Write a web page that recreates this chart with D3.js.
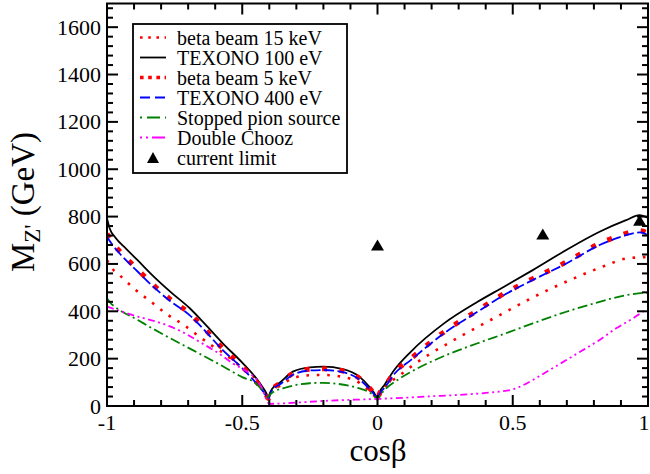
<!DOCTYPE html>
<html><head><meta charset="utf-8">
<script src="https://cdn.jsdelivr.net/npm/d3@7"></script>
<style>
html,body{margin:0;padding:0;background:#fff;}
svg{display:block;}
</style></head>
<body>
<svg id="chart" width="650" height="474" font-family="'Liberation Serif', 'Times New Roman', Times, 'DejaVu Serif', serif"></svg>
<script>
// ---------- data ----------
const betaBeam15keV = [[-1,616],[-0.981,581],[-0.954,553],[-0.898,494],[-0.837,440],[-0.775,385],[-0.713,340],[-0.683,314],[-0.621,262],[-0.559,215],[-0.498,159],[-0.461,128],[-0.435,90],[-0.418,60],[-0.405,35],[-0.397,52],[-0.38,72],[-0.36,86],[-0.313,117],[-0.25,130],[-0.2,131],[-0.128,123],[-0.067,98],[-0.03,64],[-0.012,44],[0,28],[0.01,50],[0.031,85],[0.076,124],[0.136,176],[0.197,222],[0.265,267],[0.333,311],[0.4,352],[0.468,394],[0.568,455],[0.636,493],[0.74,546],[0.845,594],[0.919,623],[0.993,630],[1,631]];
const texono100eV = [[-1,792],[-0.99,750],[-0.97,713],[-0.93,665],[-0.887,616],[-0.83,550],[-0.76,477],[-0.695,414],[-0.64,349],[-0.572,265],[-0.5,183],[-0.448,117],[-0.425,80],[-0.412,56],[-0.403,35],[-0.395,62],[-0.38,84],[-0.362,98],[-0.313,145],[-0.25,163],[-0.2,166],[-0.128,156],[-0.067,124],[-0.03,81],[-0.012,55],[0,32],[0.008,60],[0.025,88],[0.062,152],[0.123,229],[0.246,349],[0.37,440],[0.468,504],[0.574,574],[0.698,659],[0.821,736],[0.919,785],[0.969,806],[1,794]];
const betaBeam5keV = [[-1,728],[-0.984,697],[-0.95,650],[-0.886,576],[-0.83,513],[-0.763,448],[-0.695,391],[-0.652,342],[-0.572,243],[-0.5,166],[-0.448,102],[-0.425,70],[-0.412,48],[-0.403,32],[-0.395,58],[-0.38,81],[-0.36,96],[-0.313,137],[-0.25,155],[-0.2,157],[-0.128,148],[-0.067,117],[-0.03,76],[-0.012,50],[0,30],[0.008,55],[0.025,80],[0.062,140],[0.123,200],[0.246,313],[0.37,404],[0.468,475],[0.574,538],[0.698,608],[0.821,686],[0.9,722],[0.944,737],[0.97,740],[1,730]];
const texono400eV = [[-1,715],[-0.984,687],[-0.95,640],[-0.886,567],[-0.83,505],[-0.763,440],[-0.695,384],[-0.652,335],[-0.572,236],[-0.5,160],[-0.448,96],[-0.425,65],[-0.412,45],[-0.403,30],[-0.395,55],[-0.38,78],[-0.36,92],[-0.313,132],[-0.25,150],[-0.2,152],[-0.128,143],[-0.067,112],[-0.03,72],[-0.012,48],[0,28],[0.008,52],[0.025,75],[0.062,135],[0.123,194],[0.246,307],[0.37,398],[0.468,469],[0.574,532],[0.698,602],[0.821,680],[0.9,715],[0.944,729],[0.97,733],[1,722]];
const stoppedPion = [[-1,455],[-0.985,432],[-0.971,419],[-0.886,363],[-0.8,307],[-0.683,236],[-0.572,168],[-0.5,122],[-0.448,94],[-0.43,72],[-0.418,52],[-0.408,35],[-0.398,48],[-0.38,63],[-0.35,74],[-0.3,89],[-0.25,96],[-0.2,98],[-0.15,94],[-0.1,84],[-0.067,74],[-0.03,58],[-0.012,42],[0,26],[0.01,45],[0.03,72],[0.074,110],[0.148,159],[0.246,211],[0.37,265],[0.474,307],[0.574,349],[0.698,398],[0.821,440],[0.919,468],[0.993,478],[1,478]];
const doubleChooz = [[-1,420],[-0.905,384],[-0.781,342],[-0.72,312],[-0.658,271],[-0.596,229],[-0.535,180],[-0.473,138],[-0.44,102],[-0.424,68],[-0.412,30],[-0.4,9],[-0.37,10],[-0.19,22],[0,30],[0.1,35],[0.2,41],[0.3,47],[0.4,55],[0.45,61],[0.5,70],[0.525,81],[0.574,110],[0.636,152],[0.698,194],[0.759,236],[0.821,279],[0.882,328],[0.944,370],[0.993,405],[1,408]];
const currentLimit = [[0,680],[0.611,726],[0.969,785]];

const legendLabels = ["beta beam 15 keV","TEXONO 100 eV","beta beam 5 keV","TEXONO 400 eV","Stopped pion source","Double Chooz","current limit"];
const xMajorTicks = [-1,-0.5,0,0.5,1];
const xTickLabels = ["-1","-0.5","0","0.5","1"];
const yMajorTicks = [0,200,400,600,800,1000,1200,1400,1600];
const yTickLabels = ["0","200","400","600","800","1000","1200","1400","1600"];

// ---------- layout ----------
const svg = d3.select("#chart");
const L = 107, R = 648, T = 3.5, B = 406;
const x = d3.scaleLinear().domain([-1,1]).range([L,R]);
const y = d3.scaleLinear().domain([0,1700]).range([B,T]);

const series = [
  {data: betaBeam15keV, color:"#ff0000", w:2.6, dash:"2.6,7.8", ldash:"2.6,5.6"},
  {data: texono100eV, color:"#000000", w:1.8, dash:null, ldash:null},
  {data: betaBeam5keV, color:"#ff0000", w:5, dash:"5,12.5", ldash:"3.6,4.6"},
  {data: texono400eV, color:"#0000ff", w:1.8, dash:"10,3.5", ldash:"10,5"},
  {data: stoppedPion, color:"#008000", w:1.8, dash:"10,3.5,2,3.5", ldash:"2,5,13,5"},
  {data: doubleChooz, color:"#ff00ff", w:1.8, dash:"7,3.5,2,3.5,2,3.5", ldash:"2,4,2,4,13,5"}
];

const defs = svg.append("defs");
defs.append("clipPath").attr("id","clip").append("rect")
  .attr("x",L).attr("y",T).attr("width",R-L).attr("height",B-T);

const line = d3.line().x(d=>x(d[0])).y(d=>y(d[1])).curve(d3.curveMonotoneX);
const plot = svg.append("g").attr("clip-path","url(#clip)");
series.forEach(s=>{
  plot.append("path").attr("d",line(s.data)).attr("fill","none")
    .attr("stroke",s.color).attr("stroke-width",s.w)
    .attr("stroke-dasharray",s.dash).attr("stroke-linecap","butt").attr("stroke-linejoin","round");
});

const tri = (cx,cy,w,h)=>`M${cx-w/2},${cy+h/2}L${cx+w/2},${cy+h/2}L${cx},${cy-h/2}Z`;
plot.selectAll("path.tri").data(currentLimit).enter().append("path").attr("class","tri")
  .attr("d",d=>tri(x(d[0]),y(d[1]),13,11)).attr("fill","#000");

// ---------- axes (ticks inward on all sides) ----------
const ax = svg.append("g").attr("stroke","#000").attr("stroke-width",2);
const xMinor = d3.range(-10,11).map(i=>i/10);
const yMinor = d3.range(0,1701,40);
xMinor.forEach(v=>{
  const major = xMajorTicks.some(m=>Math.abs(m-v)<1e-9);
  const len = major?11:6;
  ax.append("line").attr("x1",x(v)).attr("x2",x(v)).attr("y1",B).attr("y2",B-len);
  ax.append("line").attr("x1",x(v)).attr("x2",x(v)).attr("y1",T).attr("y2",T+len);
});
yMinor.forEach(v=>{
  const major = v%200===0;
  const len = major?11:6;
  ax.append("line").attr("y1",y(v)).attr("y2",y(v)).attr("x1",L).attr("x2",L+len);
  ax.append("line").attr("y1",y(v)).attr("y2",y(v)).attr("x1",R).attr("x2",R-len);
});
svg.append("rect").attr("x",L).attr("y",T).attr("width",R-L).attr("height",B-T)
  .attr("fill","none").attr("stroke","#000").attr("stroke-width",2);

svg.append("g").selectAll("text").data(xMajorTicks).enter().append("text")
  .attr("x",d=>Math.min(x(d),644)).attr("y",430).attr("text-anchor","middle")
  .attr("font-size",22).text((d,i)=>xTickLabels[i]);
svg.append("g").selectAll("text").data(yMajorTicks).enter().append("text")
  .attr("x",101).attr("y",d=>y(d)+7.5).attr("text-anchor","end")
  .attr("font-size",22).text((d,i)=>yTickLabels[i]);

// axis titles
svg.append("text").attr("x",378).attr("y",461).attr("text-anchor","middle")
  .attr("font-size",31).text("cosβ");
const yt = svg.append("text").attr("transform","translate(34,202) rotate(-90)")
  .attr("text-anchor","middle").attr("font-size",33);
yt.append("tspan").text("M");
yt.append("tspan").attr("font-size",23).attr("dy",6).text("Z'");
yt.append("tspan").attr("dy",-6).text(" (GeV)");

// ---------- legend ----------
const lg = svg.append("g");
lg.append("rect").attr("x",133).attr("y",24).attr("width",214).attr("height",149)
  .attr("fill","#fff").attr("stroke","#000").attr("stroke-width",1.8);
const rowY = i=>37.5+i*20;
series.forEach((s,i)=>{
  lg.append("line").attr("x1",140).attr("x2",166).attr("y1",rowY(i)).attr("y2",rowY(i))
    .attr("stroke",s.color).attr("stroke-width",i===2?3.6:(i===0?2.6:1.8))
    .attr("stroke-dasharray",s.ldash);
});
lg.append("path").attr("d",tri(153,rowY(6),12,11)).attr("fill","#000");
legendLabels.forEach((t,i)=>{
  lg.append("text").attr("x",177).attr("y",rowY(i)+7).attr("font-size",20).text(t);
});
</script>
</body></html>
